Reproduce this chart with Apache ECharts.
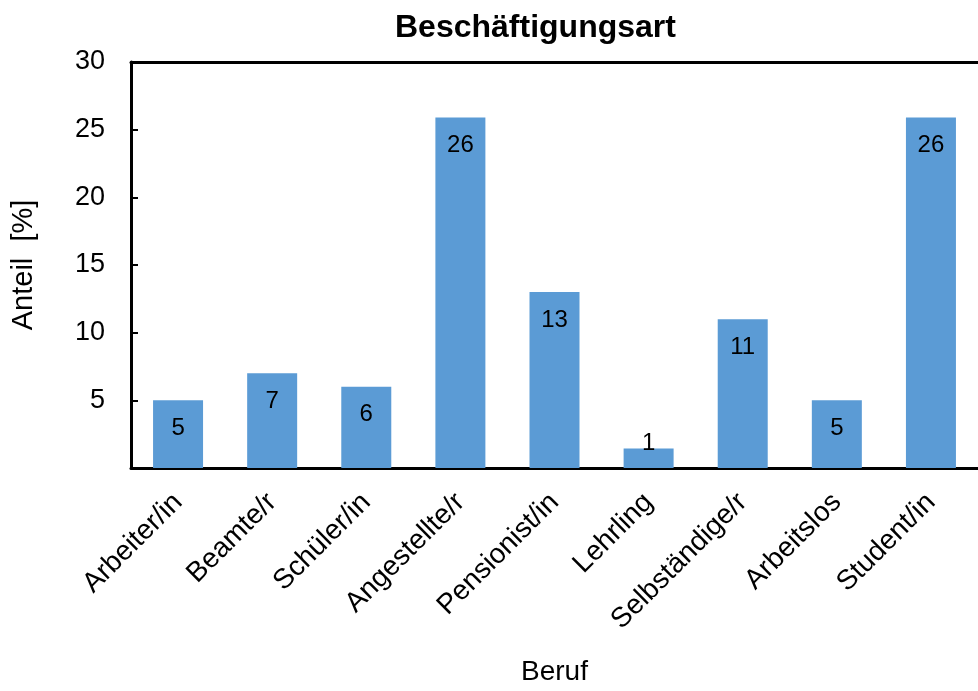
<!DOCTYPE html>
<html>
<head>
<meta charset="utf-8">
<script src="https://cdn.jsdelivr.net/npm/echarts@6/dist/echarts.min.js"></script>
<style>html,body{margin:0;padding:0;background:#fff;}#c{width:978px;height:691px;}</style>
</head>
<body>
<div id="c"></div>
<script>
const categories = ['Arbeiter/in','Beamte/r','Schüler/in','Angestellte/r','Pensionist/in','Lehrling','Selbständige/r','Arbeitslos','Student/in'];
const values = [5, 7, 6, 25.9, 13, 1.45, 11, 5, 25.9];
const yTicks = [0, 5, 10, 15, 20, 25, 30];

const FONT = 'Liberation Sans, Arial, sans-serif';
const chart = echarts.init(document.getElementById('c'), null, {renderer:'canvas'});
const seriesData = values.map(v => v < 3 ? {value: v, label: {position: 'top', distance: -7}} : v);

chart.setOption({
  animation: false,
  backgroundColor: '#fff',
  title: {
    text: 'Beschäftigungsart',
    left: 390, top: 7,
    textStyle: {fontFamily: FONT, fontSize: 32, fontWeight: 'bold', color: '#000'}
  },
  grid: {left: 131, top: 62, width: 855, height: 415, containLabel: false},
  xAxis: [{
    type: 'category',
    data: categories,
    position: 'bottom',
    axisLine: {show: true, lineStyle: {color: '#000', width: 3}},
    axisTick: {show: false},
    axisLabel: {rotate: 45, fontSize: 28, fontFamily: FONT, color: '#000', margin: 30, interval: 0},
    name: 'Beruf',
    nameLocation: 'middle',
    nameGap: 190,
    nameTextStyle: {fontFamily: FONT, fontSize: 28, color: '#000'}
  }, {
    type: 'category',
    data: categories,
    position: 'top',
    axisLine: {show: true, lineStyle: {color: '#000', width: 3}},
    axisTick: {show: false},
    axisLabel: {show: false}
  }],
  yAxis: {
    type: 'value',
    min: yTicks[0], max: yTicks[yTicks.length - 1], interval: yTicks[1] - yTicks[0],
    axisLine: {show: true, lineStyle: {color: '#000', width: 3}},
    axisTick: {show: true, inside: true, length: 7, lineStyle: {color: '#000', width: 2}},
    axisLabel: {fontSize: 27, fontFamily: FONT, color: '#000', margin: 26,
      formatter: v => (v === 0 ? '' : String(v))},
    splitLine: {show: false},
    name: 'Anteil  [%]',
    nameLocation: 'middle',
    nameRotate: 90,
    nameGap: 93,
    nameTextStyle: {fontFamily: FONT, fontSize: 29, color: '#000'}
  },
  series: [{
    type: 'bar',
    data: seriesData,
    barWidth: 50,
    itemStyle: {color: '#5B9BD5'},
    label: {
      show: true, position: 'insideTop', distance: 16,
      fontFamily: FONT, fontSize: 24, color: '#000',
      formatter: p => String(Math.round(p.value))
    }
  }]
});
</script>
</body>
</html>
